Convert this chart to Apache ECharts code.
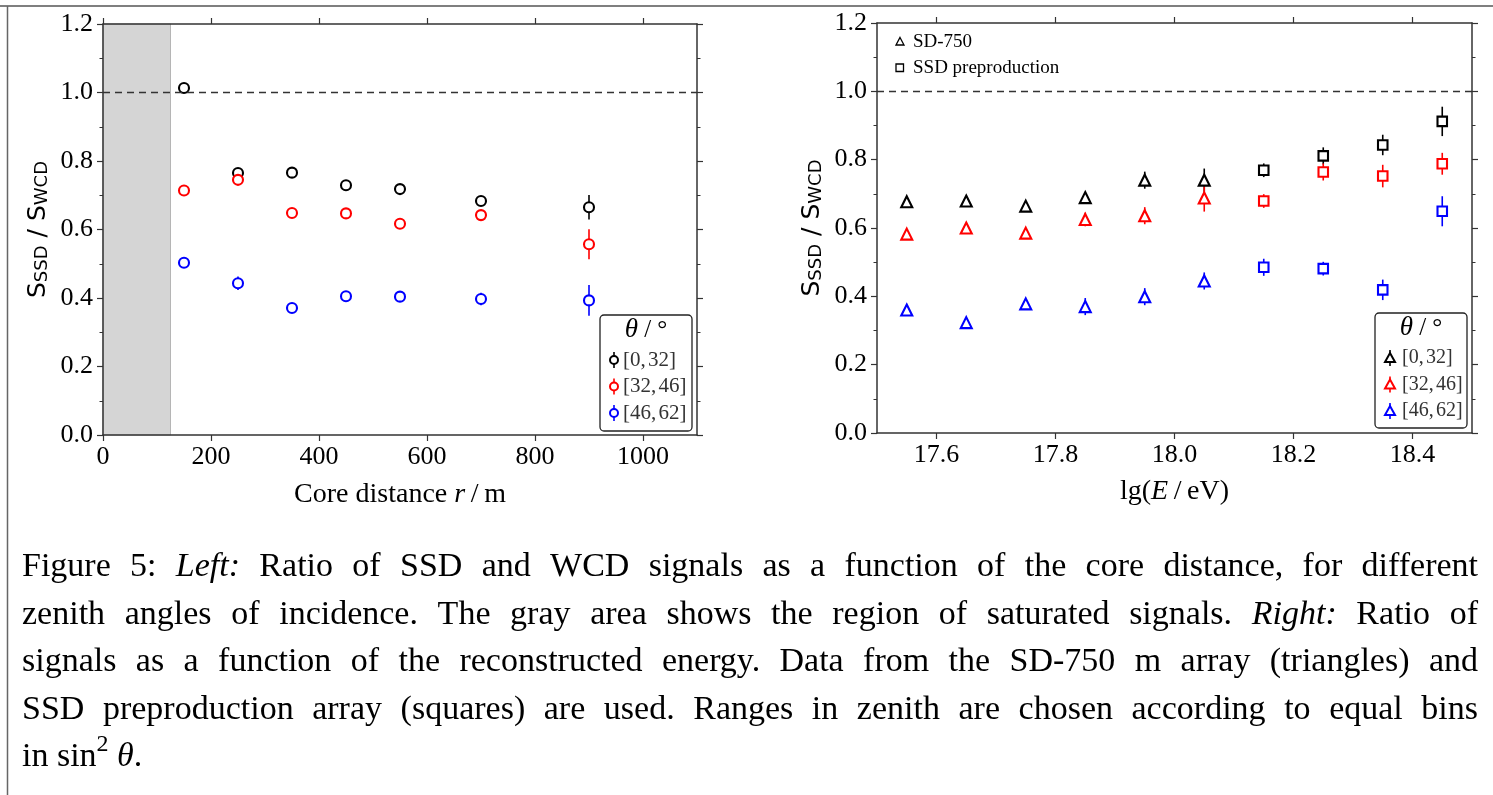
<!DOCTYPE html>
<html><head><meta charset="utf-8">
<script src="https://cdn.jsdelivr.net/npm/echarts@6/dist/echarts.min.js"></script>
<style>html,body{margin:0;padding:0;background:#fff}#c{width:1493px;height:795px}</style>
</head><body><div id="c"></div><script>
// ---------- data: left panel (core distance) ----------
const leftR = [150, 250, 350, 450, 550, 700, 900];
const leftBlack = [1.013, 0.765, 0.766, 0.729, 0.718, 0.683, 0.665];
const leftBlackErr = [0.010, 0.010, 0.008, 0.008, 0.008, 0.012, 0.036];
const leftRed = [0.714, 0.745, 0.648, 0.647, 0.617, 0.642, 0.557];
const leftRedErr = [0.010, 0.012, 0.010, 0.010, 0.015, 0.015, 0.044];
const leftBlue = [0.503, 0.443, 0.371, 0.405, 0.404, 0.397, 0.393];
const leftBlueErr = [0.012, 0.020, 0.010, 0.010, 0.012, 0.018, 0.045];
const saturatedMax = 125;
const leftXTicks = [0, 200, 400, 600, 800, 1000];

// ---------- data: right panel (energy) ----------
const sdEnergy = [17.55, 17.65, 17.75, 17.85, 17.95, 18.05];
const ssdEnergy = [18.15, 18.25, 18.35, 18.45];
const sdBlack = [0.677, 0.679, 0.664, 0.689, 0.740, 0.740];
const sdBlackErr = [0.010, 0.010, 0.010, 0.015, 0.025, 0.034];
const ssdBlack = [0.769, 0.811, 0.843, 0.912];
const ssdBlackErr = [0.020, 0.025, 0.030, 0.043];
const sdRed = [0.582, 0.600, 0.585, 0.625, 0.636, 0.688];
const sdRedErr = [0.010, 0.010, 0.010, 0.020, 0.025, 0.040];
const ssdRed = [0.679, 0.764, 0.752, 0.788];
const ssdRedErr = [0.020, 0.025, 0.033, 0.032];
const sdBlue = [0.360, 0.323, 0.378, 0.370, 0.399, 0.445];
const sdBlueErr = [0.012, 0.012, 0.012, 0.025, 0.025, 0.025];
const ssdBlue = [0.485, 0.481, 0.419, 0.649];
const ssdBlueErr = [0.025, 0.020, 0.030, 0.044];
const rightXTicks = [17.6, 17.8, 18.0, 18.2, 18.4];

const zenithBins = ['[0,32]', '[32,46]', '[46,62]'];
const binColors = ['#000000', '#ff0000', '#0000ff'];

const captionLines = [
  'Figure 5: *Left:* Ratio of SSD and WCD signals as a function of the core distance, for different',
  'zenith angles of incidence. The gray area shows the region of saturated signals. *Right:* Ratio of',
  'signals as a function of the reconstructed energy. Data from the SD-750 m array (triangles) and',
  'SSD preproduction array (squares) are used. Ranges in zenith are chosen according to equal bins',
  'in sin^2 *θ*.'
];

// ---------- helpers ----------
const SERIF = 'Liberation Serif';
const AX = '#333';
function zip3(x, y, e) { return x.map((v, i) => [v, y[i], e[i]]); }
function errRender(params, api) {
  const x = api.value(0), y = api.value(1), e = api.value(2);
  const p1 = api.coord([x, y - e]), p2 = api.coord([x, y + e]);
  return { type: 'line', shape: { x1: p1[0], y1: p1[1], x2: p2[0], y2: p2[1] },
    style: { stroke: api.visual('color'), lineWidth: 1.6 } };
}
function errSeries(name, xi, yi, x, y, e, color) {
  return { name: name + ' err', type: 'custom', xAxisIndex: xi, yAxisIndex: yi, renderItem: errRender,
    itemStyle: { color: color }, data: zip3(x, y, e), encode: { x: 0, y: 1 }, z: 3, silent: true };
}
function ptSeries(name, xi, yi, x, y, color, symbol, size) {
  return { name: name, type: 'scatter', xAxisIndex: xi, yAxisIndex: yi, symbol: symbol, symbolSize: size,
    itemStyle: { color: '#fff', borderColor: color, borderWidth: 2.1, opacity: 1 },
    data: x.map((v, i) => [v, y[i]]), z: 4 };
}
const tickLabel = { fontFamily: SERIF, fontSize: 26, color: '#000' };
function xAxes(grid, min, max, ticks, name, fmt, gap) {
  return [
    { gridIndex: grid, type: 'value', min: min, max: max, position: 'bottom',
      axisLine: { show: true, onZero: false, lineStyle: { color: AX, width: 1.5 } },
      axisTick: { show: true, inside: false, length: 6, customValues: ticks, lineStyle: { color: AX, width: 1.2 } },
      axisLabel: Object.assign({ customValues: ticks, margin: 9, formatter: fmt }, tickLabel),
      splitLine: { show: false },
      name: name.text, nameLocation: 'middle', nameGap: gap,
      nameTextStyle: { fontFamily: SERIF, fontSize: 28, color: '#000', rich: name.rich } },
    { gridIndex: grid, type: 'value', min: min, max: max, position: 'top',
      axisLine: { show: true, onZero: false, lineStyle: { color: AX, width: 1.5 } },
      axisTick: { show: true, inside: false, length: 6, customValues: ticks, lineStyle: { color: AX, width: 1.2 } },
      axisLabel: { show: false }, splitLine: { show: false } }
  ];
}
const yName = '{s|S}{b|SSD}{s| / S}{b|WCD}';
const yRich = {
  s: { fontFamily: 'DejaVu Sans', fontSize: 25, lineHeight: 32, verticalAlign: 'bottom', color: '#000' },
  b: { fontFamily: 'DejaVu Sans', fontSize: 18, lineHeight: 21, verticalAlign: 'bottom', color: '#000' }
};
function yAxes(grid) {
  const common = { gridIndex: grid, type: 'value', min: 0, max: 1.2, interval: 0.2, splitLine: { show: false },
    axisLine: { show: true, onZero: false, lineStyle: { color: AX, width: 1.5 } },
    axisTick: { show: true, inside: false, length: 6, lineStyle: { color: AX, width: 1.2 } },
    minorTick: { show: true, splitNumber: 2, length: 3.5, lineStyle: { color: AX, width: 1 } } };
  return [
    Object.assign({}, common, { position: 'left',
      axisLabel: Object.assign({ margin: 10, formatter: v => v.toFixed(1) }, tickLabel),
      name: yName, nameLocation: 'middle', nameGap: 52, nameRotate: 90,
      nameTextStyle: { rich: yRich } }),
    Object.assign({}, common, { position: 'right', axisLabel: { show: false } })
  ];
}

// ---------- caption layout (justified) ----------
const CAP_SIZE = 34, CAP_LEFT = 22, CAP_RIGHT = 1478, CAP_Y0 = 567, CAP_DY = 47.6;
const mctx = document.createElement('canvas').getContext('2d');
function fontStr(it, size) { return (it ? 'italic ' : '') + size + 'px "' + SERIF + '"'; }
function measure(t, it, size) { mctx.font = fontStr(it, size); return mctx.measureText(t).width; }
function captionGraphics() {
  const out = [];
  let italic = false;
  captionLines.forEach((line, li) => {
    const words = line.split(' ').map(w => {
      const segs = []; let cur = ''; let i = 0;
      const flush = (sup) => { if (cur) { segs.push({ t: cur, it: italic, sup: !!sup }); cur = ''; } };
      while (i < w.length) {
        const ch = w[i];
        if (ch === '*') { flush(); italic = !italic; }
        else if (ch === '^') { flush(); cur = w[i + 1]; flush(true); i++; }
        else cur += ch;
        i++;
      }
      flush();
      segs.forEach(s => { s.size = s.sup ? Math.round(CAP_SIZE * 0.7) : CAP_SIZE; s.w = measure(s.t, s.it, s.size); });
      return { segs: segs, w: segs.reduce((a, s) => a + s.w, 0) };
    });
    const total = words.reduce((a, w) => a + w.w, 0);
    const last = li === captionLines.length - 1;
    const gap = last ? measure(' ', false, CAP_SIZE) : (CAP_RIGHT - CAP_LEFT - total) / (words.length - 1);
    let x = CAP_LEFT; const y = CAP_Y0 + li * CAP_DY;
    words.forEach(w => {
      let sx = x;
      w.segs.forEach(s => {
        out.push({ type: 'text', x: sx, y: s.sup ? y - CAP_SIZE * 0.36 : y, silent: true,
          style: { text: s.t, fontFamily: SERIF, fontSize: s.size, fontStyle: s.it ? 'italic' : 'normal',
            fill: '#000', align: 'left', verticalAlign: 'middle' } });
        sx += s.w;
      });
      x += w.w + gap;
    });
  });
  return out;
}

// ---------- legends (graphic) ----------
function legendBox(x, y, w, h, rows, symbol, symX, txtX, fs) {
  const g = [];
  g.push({ type: 'rect', shape: { x: x, y: y, width: w, height: h, r: 4 },
    style: { fill: '#fff', stroke: '#222', lineWidth: 1.3 }, z: 20 });
  g.push({ type: 'text', x: x + w / 2, y: y + 15, z: 21,
    style: { text: '{i|θ}{n| / °}', align: 'center', verticalAlign: 'middle',
      rich: { i: { fontFamily: SERIF, fontStyle: 'italic', fontSize: 27, fill: '#000' },
              n: { fontFamily: SERIF, fontSize: 25, fill: '#000' } } } });
  rows.forEach((r, i) => {
    const cy = y + 45 + i * 26.5, sx = x + symX;
    g.push({ type: 'line', shape: { x1: sx, y1: cy - 8, x2: sx, y2: cy + 8 }, style: { stroke: binColors[i], lineWidth: 1.6 }, z: 21 });
    if (symbol === 'circle') {
      g.push({ type: 'circle', shape: { cx: sx, cy: cy, r: 4 }, style: { fill: '#fff', stroke: binColors[i], lineWidth: 2 }, z: 22 });
    } else {
      g.push({ type: 'polygon', shape: { points: [[sx, cy - 5], [sx + 5, cy + 4], [sx - 5, cy + 4]] },
        style: { fill: '#fff', stroke: binColors[i], lineWidth: 2 }, z: 22 });
    }
    const parts = r.slice(1, -1).split(',');
    g.push({ type: 'text', x: x + txtX, y: cy, z: 21,
      style: { text: '[' + parts[0] + ',{t| }' + parts[1] + ']', fontFamily: SERIF, fontSize: fs, fill: '#333',
        align: 'left', verticalAlign: 'middle',
        rich: { t: { fontFamily: SERIF, fontSize: 9, fill: '#333' } } } });
  });
  return g;
}

const markerLegend = [
  { type: 'polygon', shape: { points: [[900, 37.5], [904, 45], [896, 45]] }, style: { fill: 'none', stroke: '#000', lineWidth: 1.3 } },
  { type: 'text', x: 913, y: 42, style: { text: 'SD-750', fontFamily: SERIF, fontSize: 19, fill: '#000', verticalAlign: 'middle' } },
  { type: 'rect', shape: { x: 896, y: 64, width: 7.5, height: 7.5 }, style: { fill: 'none', stroke: '#000', lineWidth: 1.3 } },
  { type: 'text', x: 913, y: 68, style: { text: 'SSD preproduction', fontFamily: SERIF, fontSize: 19, fill: '#000', verticalAlign: 'middle' } }
];

const frame = [
  { type: 'line', shape: { x1: 0, y1: 6, x2: 1493, y2: 6 }, style: { stroke: '#555', lineWidth: 1.5 } },
  { type: 'line', shape: { x1: 7.5, y1: 6, x2: 7.5, y2: 795 }, style: { stroke: '#666', lineWidth: 1.5 } }
];

// ---------- series ----------
const series = [];
const leftSets = [[leftBlack, leftBlackErr], [leftRed, leftRedErr], [leftBlue, leftBlueErr]];
leftSets.forEach((s, i) => {
  series.push(errSeries('L' + zenithBins[i], 0, 0, leftR, s[0], s[1], binColors[i]));
  series.push(ptSeries('L' + zenithBins[i], 0, 0, leftR, s[0], binColors[i], 'circle', 10));
});
series[1].markArea = { silent: true, z: 0,
  itemStyle: { color: '#d5d5d5', borderColor: '#b5b5b5', borderWidth: 1 },
  data: [[{ xAxis: 0 }, { xAxis: saturatedMax }]] };
series[1].markLine = { silent: true, symbol: 'none', label: { show: false },
  lineStyle: { color: '#333', type: [7, 5], width: 1.4 }, data: [{ yAxis: 1.0 }] };
const sdSets = [[sdBlack, sdBlackErr], [sdRed, sdRedErr], [sdBlue, sdBlueErr]];
const ssdSets = [[ssdBlack, ssdBlackErr], [ssdRed, ssdRedErr], [ssdBlue, ssdBlueErr]];
sdSets.forEach((s, i) => {
  series.push(errSeries('SD-750 ' + zenithBins[i], 2, 2, sdEnergy, s[0], s[1], binColors[i]));
  series.push(ptSeries('SD-750 ' + zenithBins[i], 2, 2, sdEnergy, s[0], binColors[i], 'triangle', 11));
});
ssdSets.forEach((s, i) => {
  series.push(errSeries('SSD ' + zenithBins[i], 2, 2, ssdEnergy, s[0], s[1], binColors[i]));
  series.push(ptSeries('SSD ' + zenithBins[i], 2, 2, ssdEnergy, s[0], binColors[i], 'rect', 9.5));
});
const rightDash = series.length - 1;
series[rightDash].markLine = { silent: true, symbol: 'none', label: { show: false },
  lineStyle: { color: '#333', type: [7, 5], width: 1.4 }, data: [{ yAxis: 1.0 }] };

const chart = echarts.init(document.getElementById('c'), null, { renderer: 'canvas' });
chart.setOption({
  animation: false,
  backgroundColor: '#fff',
  grid: [
    { left: 103, top: 24, width: 594, height: 411 },
    { left: 877, top: 23, width: 595, height: 410 }
  ],
  xAxis: [].concat(
    xAxes(0, 0, 1100, leftXTicks, { text: 'Core distance {i|r}\u2009/\u2009m',
      rich: { i: { fontFamily: SERIF, fontStyle: 'italic', fontSize: 28, color: '#000' } } }, v => String(v), 46),
    xAxes(1, 17.5, 18.5, rightXTicks, { text: 'lg({i|E}\u2009/\u2009eV)',
      rich: { i: { fontFamily: SERIF, fontStyle: 'italic', fontSize: 28, color: '#000' } } }, v => v.toFixed(1), 45)
  ),
  yAxis: [].concat(yAxes(0), yAxes(1)),
  series: series,
  graphic: [].concat(frame, captionGraphics(),
    legendBox(600, 315, 92, 116, zenithBins, 'circle', 14, 23, 21),
    legendBox(1375, 313, 92, 115, zenithBins, 'triangle', 15, 27, 20), markerLegend)
});
</script></body></html>
